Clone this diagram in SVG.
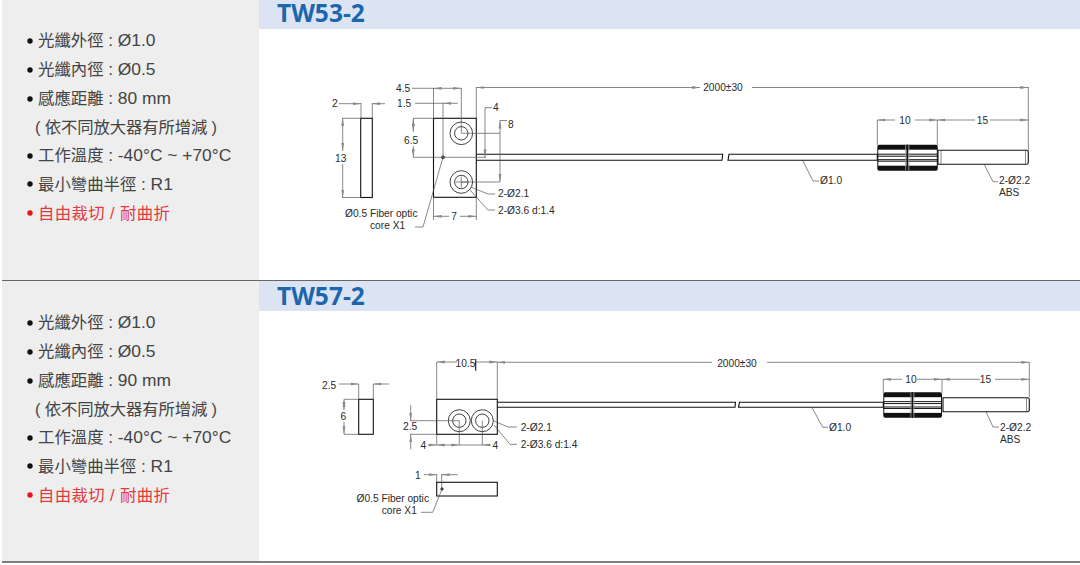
<svg xmlns="http://www.w3.org/2000/svg" width="1080" height="565" viewBox="0 0 1080 565">
<style>
text{font-family:"Liberation Sans","Noto Sans CJK TC",sans-serif}
.spec{font-size:16.4px;fill:#444}
.l{font-size:17.4px}
.red{fill:#e33a42}
.hd{font-family:"Open Sans","Liberation Sans",sans-serif;font-weight:700;font-size:24.500px;fill:#1b66ad}
.d{font-size:10.200px;fill:#2a2a2a}
.m{text-anchor:middle}
.o{fill:none;stroke:#111;stroke-width:1.100}
.h{fill:none;stroke:#111;stroke-width:.8}
.w{fill:#fff;stroke:#111;stroke-width:1.100}
.t{fill:none;stroke:#555;stroke-width:.7}
.dim{fill:none;stroke:#555;stroke-width:.7;marker-start:url(#a);marker-end:url(#a)}
.dimr{fill:none;stroke:#555;stroke-width:.7;marker-end:url(#a)}
</style>
<defs>
<marker id="a" viewBox="0 0 8 4" refX="8" refY="2" markerWidth="8" markerHeight="4" markerUnits="userSpaceOnUse" orient="auto-start-reverse"><path d="M0 0.6L8 2L0 3.4z" fill="#888"/></marker>
<g id="knob"><rect x="0" y="0" width="60.500" height="26" rx="2" fill="#111"/><rect x="1" y="5" width="58.500" height="16" fill="#fff"/><path d="M0 9.500H60.500M0 11.500H60.500M0 15H60.500M0 16.500H60.500" stroke="#111" stroke-width="1" fill="none"/><path d="M28.500 0V26M31.500 0V26" stroke="#999" stroke-width="1"/><path d="M30 0V26" stroke="#111" stroke-width="1.500"/></g>
</defs>
<rect width="1080" height="565" fill="#fff"/>

<g id="panel-tw53">
<rect x="2" y="0" width="257" height="280" fill="#eeeeee"/>
<rect x="259" y="0" width="821" height="29" fill="#dce4f3"/>
<text class="hd" x="277" y="22">TW53-2</text>
<g fill="#111"><circle cx="30" cy="41" r="2.700"/><circle cx="30" cy="70" r="2.700"/><circle cx="30" cy="99" r="2.700"/><circle cx="30" cy="156" r="2.700"/><circle cx="30" cy="184" r="2.700"/></g><circle cx="30" cy="213" r="2.700" fill="#e8111c"/>
<text class="spec" x="38" y="46">光纖外徑 <tspan class="l">: Ø1.0</tspan></text>
<text class="spec" x="38" y="75">光纖內徑 <tspan class="l">: Ø0.5</tspan></text>
<text class="spec" x="38" y="104">感應距離 <tspan class="l">: 80 mm</tspan></text>
<text class="spec" x="35" y="133" textLength="182">( 依不同放大器有所增減 )</text>
<text class="spec" x="38" y="161">工作溫度 <tspan class="l">: -40°C ~ +70°C</tspan></text>
<text class="spec" x="38" y="190">最小彎曲半徑 <tspan class="l">: R1</tspan></text>
<text class="spec red" x="38" y="219" textLength="132">自由裁切 / 耐曲折</text>
</g>
<path d="M2 280.500H1080" stroke="#666" stroke-width="1"/>

<g id="panel-tw57">
<rect x="2" y="281" width="257" height="281" fill="#eeeeee"/>
<rect x="259" y="281" width="821" height="30" fill="#dce4f3"/>
<text class="hd" x="277" y="305">TW57-2</text>
<g fill="#111"><circle cx="30" cy="323" r="2.700"/><circle cx="30" cy="352" r="2.700"/><circle cx="30" cy="381" r="2.700"/><circle cx="30" cy="438" r="2.700"/><circle cx="30" cy="466" r="2.700"/></g><circle cx="30" cy="495" r="2.700" fill="#e8111c"/>
<text class="spec" x="38" y="328">光纖外徑 <tspan class="l">: Ø1.0</tspan></text>
<text class="spec" x="38" y="357">光纖內徑 <tspan class="l">: Ø0.5</tspan></text>
<text class="spec" x="38" y="386">感應距離 <tspan class="l">: 90 mm</tspan></text>
<text class="spec" x="35" y="415" textLength="182">( 依不同放大器有所增減 )</text>
<text class="spec" x="38" y="443">工作溫度 <tspan class="l">: -40°C ~ +70°C</tspan></text>
<text class="spec" x="38" y="472">最小彎曲半徑 <tspan class="l">: R1</tspan></text>
<text class="spec red" x="38" y="501" textLength="132">自由裁切 / 耐曲折</text>
</g>
<path d="M2 562H1080" stroke="#555" stroke-width="1.500"/>

<g id="side-tw53"><rect class="o" x="360.700" y="118.300" width="11.600" height="79.200"/></g>
<g id="body-tw53">
<path class="w" d="M476.300 154.300H722.700L722 160.300H476.300M729 154.300H877.300V160.300H728z"/>
<rect class="w" x="433.500" y="118.300" width="42.800" height="79"/>
<g class="h"><circle cx="461.300" cy="133.300" r="11.300"/><circle cx="461.300" cy="133.300" r="6.700"/><circle cx="461.300" cy="182" r="11.300"/><circle cx="461.300" cy="182" r="6.700"/></g>
<path class="t" d="M456 182H467M461.300 176.500V187.500"/>
</g>
<g id="connector-tw53">
<path class="w" d="M938 150.300H1026.500Q1028.300 150.300 1028.300 152V162.500Q1028.300 164.300 1026.500 164.300H938z"/>
<path class="t" d="M1025.500 150.300V164.300M941 150.300V164.300"/>
<use href="#knob" x="877.300" y="144.700"/>
</g>
<g id="connectors-tw53">
<path class="t" d="M433.500 88V118M461.300 88V133M476.300 87V118M443 103V157M413 118.300H433.500M413 157.300H486M461.300 133.300H500M461.300 182H500M342 118.300H361M342 197.500H361M361 103V118M372.300 103V118M433.500 197V220M476.300 197V220M1028.300 87V152M877.300 120V145M937.300 120V145"/>
<path class="t" d="M412 88.300H433.500M415 103.300H443"/>
<path class="dim" d="M433.500 88.300H461.300"/>
<path class="dim" d="M476.300 87.500H700"/>
<path class="dimr" d="M752 87.500H1028.300"/>
<path class="dimr" d="M458 103.300H443"/>
<path class="dimr" d="M339 103.700H361"/><path class="dimr" d="M385 103.700H372.300"/>
<path class="dim" d="M342.700 118.300V151"/><path class="dimr" d="M342.700 164V197.500"/>
<path class="dim" d="M413.300 118.300V132"/><path class="dimr" d="M413.300 146V157.300"/>
<path class="dimr" d="M485 107.700V157.300"/><path class="t" d="M485 107.700H492"/>
<path class="dim" d="M500 120.500V182"/><path class="t" d="M500 120.500H507"/>
<path class="dimr" d="M449 216.300H433.500"/><path class="dimr" d="M460 216.300H476.300"/>
<path class="dimr" d="M895 120H877.300"/><path class="dimr" d="M915 120H937.300"/>
<path class="dimr" d="M975 120H937.300"/><path class="dimr" d="M990 120H1028.300"/>
<path class="t" d="M443 157.300L423 227H415M470.700 187L488 194H495M470 190L488 210H495M803 161L813 181H819M984 164L993 181.700H998"/>
<circle cx="443" cy="157.300" r="1.500" fill="#555" stroke="#222" stroke-width=".6"/>
</g>
<g id="dims-tw53-labels">
<text class="d" x="396" y="92">4.5</text><text class="d" x="397" y="107">1.5</text><text class="d" x="332" y="107">2</text>
<text class="d" x="335" y="161.500">13</text><text class="d" x="404" y="143.500">6.5</text>
<text class="d" x="493" y="111">4</text><text class="d" x="508" y="128">8</text><text class="d m" x="454" y="220">7</text>
<text class="d m" x="723" y="91">2000±30</text><text class="d m" x="905" y="124">10</text><text class="d m" x="982.500" y="124">15</text>
<text class="d" x="498" y="197">2-Ø2.1</text><text class="d" x="498" y="214">2-Ø3.6 d:1.4</text>
<text class="d" x="345" y="217">Ø0.5 Fiber optic</text><text class="d" x="370" y="229">core X1</text>
<text class="d" x="820" y="184">Ø1.0</text><text class="d" x="999" y="184">2-Ø2.2</text><text class="d" x="999" y="196">ABS</text>
</g>

<g id="side-tw57"><rect class="o" x="358.700" y="399.300" width="14.600" height="35"/></g>
<g id="body-tw57">
<path class="w" d="M497.300 402.300H735.500L735 407.300H497.300M739.500 402.300H883.300V407.300H738.500z"/>
<rect class="w" x="436.700" y="399.300" width="60.600" height="35"/>
<g class="h"><circle cx="459.300" cy="420.700" r="11"/><circle cx="459.300" cy="420.700" r="6.700"/><circle cx="482.300" cy="420.700" r="11"/><circle cx="482.300" cy="420.700" r="6.700"/></g>
<path d="M475.700 359V370.700" stroke="#111" stroke-width="1.100"/>
</g>
<g id="end-view-tw57"><rect class="o" x="436.700" y="482.300" width="60.600" height="13.700"/></g>
<g id="connector-tw57">
<path class="w" d="M943 397.700H1027.500Q1029.300 397.700 1029.300 399.500V410Q1029.300 411.700 1027.500 411.700H943z"/>
<path class="t" d="M1026.500 397.700V411.700"/>
<use href="#knob" transform="translate(883.300 392.300) scale(.97 .98)"/>
</g>
<g id="connectors-tw57">
<path class="t" d="M436.700 362V399M497.300 362V399M1029.300 362V397M883.300 379V393M942 379V393M358.700 384V399M373.300 384V399M344 399.300H358.700M344 434.300H358.700M410 420.700H459.300M410 434.300H436.700M436.700 434V445M459.300 420.700V445M482.300 420.700V445M436.700 474V482M441.700 474V489"/>
<path class="dimr" d="M457 362H436.700"/><path class="dimr" d="M476 362H497.300"/>
<path class="dimr" d="M712 362.300H497.300"/><path class="dimr" d="M767 362.300H1029.300"/>
<path class="dimr" d="M339 384H358.700"/><path class="dimr" d="M389 384H373.300"/>
<path class="dim" d="M344 399.300V410"/><path class="dimr" d="M344 422V434.300"/>
<path class="dimr" d="M410.700 405V420.700"/><path class="dimr" d="M410.700 449.300V434.300"/>
<path class="dimr" d="M428 445H436.700"/><path class="dim" d="M436.700 445H459.300"/><path class="t" d="M459.300 445H482.300"/><path class="dimr" d="M491 445H482.300"/>
<path class="dimr" d="M424 474.700H436.700"/><path class="dimr" d="M457.700 474.700H441.700"/>
<path class="dimr" d="M902 379.300H883.300"/><path class="dimr" d="M917 379.300H942"/>
<path class="dimr" d="M980 379.300H942"/><path class="dimr" d="M995 379.300H1029.300"/>
<path class="t" d="M493.300 420.700L508 427H517M494 425L510 444.300H517M442 489L432.700 512.300H421M812.300 408L822.700 427.300H828M986 411.700L993 427H999"/>
<circle cx="442" cy="489" r="1.300" fill="#555" stroke="#222" stroke-width=".6"/>
</g>
<g id="dims-tw57-labels">
<text class="d m" x="465.500" y="366.500">10.5</text><text class="d" x="322" y="388.500">2.5</text><text class="d" x="340.500" y="419.500">6</text>
<text class="d" x="403" y="430">2.5</text><text class="d" x="420.500" y="448.500">4</text><text class="d" x="492.500" y="448.500">4</text><text class="d" x="415" y="478.500">1</text>
<text class="d m" x="737" y="367">2000±30</text><text class="d m" x="911" y="383">10</text><text class="d m" x="985.500" y="383">15</text>
<text class="d" x="520.700" y="431">2-Ø2.1</text><text class="d" x="520.700" y="448">2-Ø3.6 d:1.4</text>
<text class="d" x="356.500" y="502">Ø0.5 Fiber optic</text><text class="d" x="381.700" y="514">core X1</text>
<text class="d" x="829" y="431">Ø1.0</text><text class="d" x="1000" y="431">2-Ø2.2</text><text class="d" x="1000" y="443">ABS</text>
</g>
</svg>
